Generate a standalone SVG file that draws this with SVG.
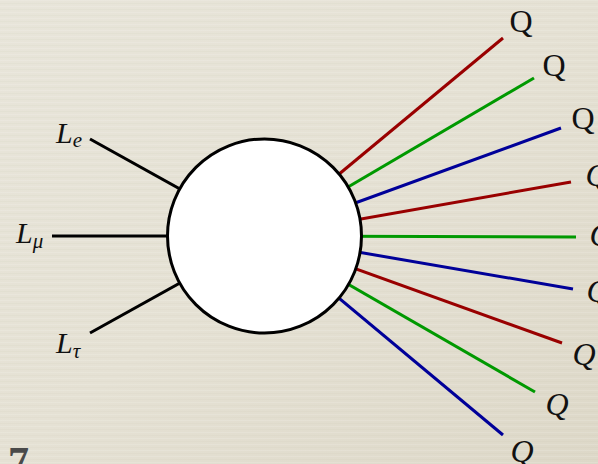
<svg xmlns="http://www.w3.org/2000/svg" width="598" height="464" viewBox="0 0 598 464">
  <defs>
    <linearGradient id="bg" x1="0" y1="0" x2="1" y2="1">
      <stop offset="0" stop-color="#e8e5da"/>
      <stop offset="0.5" stop-color="#e5e1d4"/>
      <stop offset="1" stop-color="#ddd8c8"/>
    </linearGradient>
    <pattern id="streaks" width="598" height="6" patternUnits="userSpaceOnUse">
      <rect x="0" y="0" width="598" height="1" fill="#ffffff" opacity="0.12"/>
      <rect x="0" y="3" width="598" height="1" fill="#a89f85" opacity="0.06"/>
    </pattern>
  </defs>
  <style>
    .lbl { font-family: "Liberation Serif", "DejaVu Serif", serif; font-style: italic; font-size: 30px; fill: #111; }
    .sub { font-size: 21px; }
    .qu { font-family: "Liberation Serif", "DejaVu Serif", serif; font-size: 32px; fill: #111; text-anchor: middle; }
    .qi { font-family: "Liberation Serif", "DejaVu Serif", serif; font-style: italic; font-size: 32px; fill: #111; text-anchor: middle; }
    .k { stroke: #000; stroke-width: 3; stroke-linecap: butt; fill: none; }
    .r { stroke: #990000; stroke-width: 3; fill: none; }
    .g { stroke: #009900; stroke-width: 3; fill: none; }
    .b { stroke: #000099; stroke-width: 3; fill: none; }
    .pg { font-family: "Liberation Serif", "DejaVu Serif", serif; font-weight: bold; font-size: 42px; fill: #4a4a4a; }
  </style>
  <rect width="598" height="464" fill="url(#bg)"/>
  <rect width="598" height="464" fill="url(#streaks)"/>

  <g id="connectors">
    <line class="k" x1="90" y1="139" x2="264.5" y2="236"/>
    <line class="k" x1="52" y1="236" x2="264.5" y2="236"/>
    <line class="k" x1="90" y1="333" x2="264.5" y2="236"/>
    <line class="r" x1="264.5" y1="236" x2="503" y2="38"/>
    <line class="g" x1="264.5" y1="236" x2="534" y2="78"/>
    <line class="b" x1="264.5" y1="236" x2="561" y2="128"/>
    <line class="r" x1="264.5" y1="236" x2="571" y2="182"/>
    <line class="g" x1="264.5" y1="236" x2="576" y2="237"/>
    <line class="b" x1="264.5" y1="236" x2="573" y2="289"/>
    <line class="r" x1="264.5" y1="236" x2="562" y2="343"/>
    <line class="g" x1="264.5" y1="236" x2="535" y2="392"/>
    <line class="b" x1="264.5" y1="236" x2="503" y2="435"/>
  </g>

  <g id="vertex">
    <circle cx="264.5" cy="236" r="97" fill="#ffffff" stroke="#000" stroke-width="3"/>
  </g>

  <g id="Le"><text class="lbl" x="56" y="143">L<tspan class="sub" dy="4">e</tspan></text></g>
  <g id="Lmu"><text class="lbl" x="16" y="243">L<tspan class="sub" dy="5">μ</tspan></text></g>
  <g id="Ltau"><text class="lbl" x="56" y="353">L<tspan class="sub" dy="5">τ</tspan></text></g>

  <g id="Q1"><text class="qu" x="521" y="32">Q</text></g>
  <g id="Q2"><text class="qu" x="554" y="76">Q</text></g>
  <g id="Q3"><text class="qu" x="583" y="129">Q</text></g>
  <g id="Q4"><text class="qi" x="597" y="186">Q</text></g>
  <g id="Q5"><text class="qi" x="601" y="246">Q</text></g>
  <g id="Q6"><text class="qi" x="598" y="302">Q</text></g>
  <g id="Q7"><text class="qi" x="584" y="365">Q</text></g>
  <g id="Q8"><text class="qi" x="557" y="415">Q</text></g>
  <g id="Q9"><text class="qi" x="522" y="462">Q</text></g>

  <g id="page"><text class="pg" x="8" y="476">7</text></g>
</svg>
